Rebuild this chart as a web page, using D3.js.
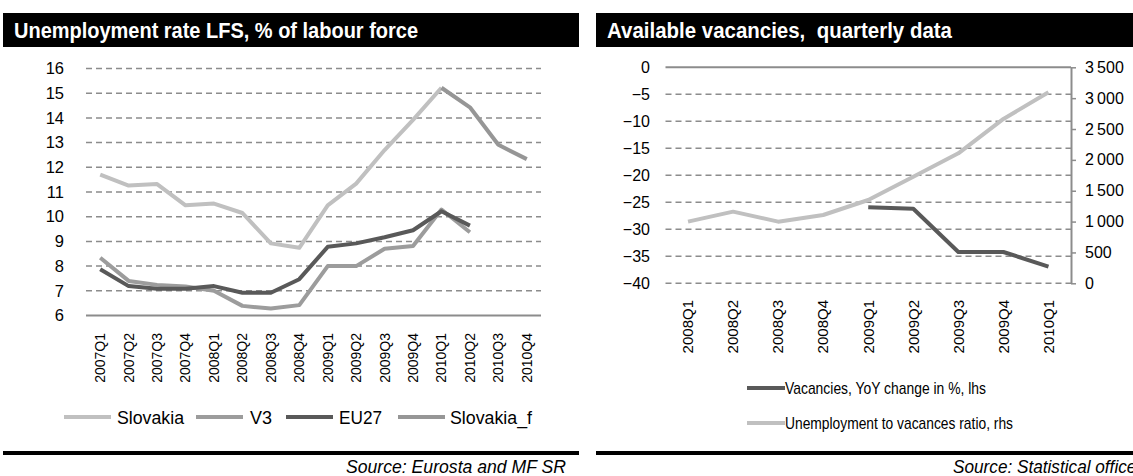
<!DOCTYPE html>
<html>
<head>
<meta charset="utf-8">
<script src="https://cdn.jsdelivr.net/npm/d3@7/dist/d3.min.js"></script>
<style>
body { margin: 0; background: #fff; }
svg { display: block; font-family: "Liberation Sans", Arial, sans-serif; }
</style>
</head>
<body>
<svg id="chart" width="1133" height="476"></svg>
<script>
// left panel: unemployment rate LFS
var quarters = ["2007Q1","2007Q2","2007Q3","2007Q4","2008Q1","2008Q2","2008Q3","2008Q4",
                "2009Q1","2009Q2","2009Q3","2009Q4","2010Q1","2010Q2","2010Q3","2010Q4"];
var slovakia  = [11.7, 11.26, 11.32, 10.46, 10.53, 10.15, 8.92, 8.74, 10.46, 11.34, 12.7, 13.92, 15.22, null, null, null];
var v3        = [8.34, 7.4, 7.24, 7.17, 7.0, 6.39, 6.28, 6.42, 8.0, 8.0, 8.7, 8.81, 10.29, 9.37, null, null];
var eu27      = [7.87, 7.19, 7.08, 7.08, 7.19, 6.92, 6.92, 7.47, 8.78, 8.92, 9.17, 9.45, 10.22, 9.64, null, null];
var slovakiaF = [null, null, null, null, null, null, null, null, null, null, null, null, 15.22, 14.43, 12.91, 12.33];
var unempTicks = [6, 7, 8, 9, 10, 11, 12, 13, 14, 15, 16];

// right panel: available vacancies
var vacQuarters = ["2008Q1","2008Q2","2008Q3","2008Q4","2009Q1","2009Q2","2009Q3","2009Q4","2010Q1"];
var vacancies = [null, null, null, null, -25.9, -26.2, -34.2, -34.2, -36.9];
var ratio     = [999, 1161, 999, 1107, 1350, 1728, 2106, 2663, 3095];
var lhsTicks = [0, -5, -10, -15, -20, -25, -30, -35, -40];
var rhsTicks = [0, 500, 1000, 1500, 2000, 2500, 3000, 3500];

var light = "#c0c0c0", mid = "#9c9c9c", dark = "#595959", grid = "#8c8c8c";
var narrow = '"Liberation Sans Narrow","Arial Narrow","Liberation Sans",Arial,sans-serif';

var svg = d3.select("#chart");

// ---------- panel frames ----------
function frame(x0, x1, title, titleLen, source, srcX, srcAnchor, srcLen) {
  svg.append("rect").attr("x", x0).attr("y", 13).attr("width", x1 - x0).attr("height", 34).attr("fill", "#000");
  svg.append("text").attr("x", x0 + 11).attr("y", 38)
    .attr("fill", "#fff").style("font-family", narrow).style("font-weight", "bold").style("font-size", "22px")
    .style("white-space", "pre")
    .attr("textLength", titleLen).attr("lengthAdjust", "spacingAndGlyphs")
    .text(title);
  svg.append("rect").attr("x", x0).attr("y", 451).attr("width", x1 - x0).attr("height", 4).attr("fill", "#000");
  svg.append("text").attr("x", srcX).attr("y", 473).attr("text-anchor", srcAnchor)
    .style("font-family", narrow).style("font-style", "italic").style("font-size", "18px")
    .attr("textLength", srcLen).attr("lengthAdjust", "spacingAndGlyphs")
    .text(source);
}
frame(3, 579, "Unemployment rate LFS, % of labour force", 404, "Source: Eurosta and MF SR", 566, "end", 220);
frame(596, 1133, "Available vacancies,  quarterly data", 345, "Source: Statistical office SR", 953, "start", 212);

// ---------- left chart ----------
var x1 = d3.scaleBand().domain(quarters).range([86, 541]);
var y1 = d3.scaleLinear().domain([6, 16]).range([315.5, 68.5]);

var g1 = svg.append("g");
g1.selectAll(".grid1").data(unempTicks.filter(function(d) { return d > 6; })).enter()
  .append("line")
  .attr("x1", 86).attr("x2", 541)
  .attr("y1", function(d) { return y1(d); }).attr("y2", function(d) { return y1(d); })
  .attr("stroke", grid).attr("stroke-width", 1.5).attr("stroke-dasharray", "6 4");
g1.append("line").attr("x1", 86).attr("x2", 541).attr("y1", y1(6)).attr("y2", y1(6))
  .attr("stroke", grid).attr("stroke-width", 2);

g1.append("g").attr("transform", "translate(64,0)")
  .call(d3.axisLeft(y1).tickValues(unempTicks).tickSize(0).tickPadding(0))
  .call(function(a) { a.select(".domain").remove(); })
  .selectAll("text").style("font-size", "16.5px").attr("fill", "#000").style("font-family", "Liberation Sans, Arial");

g1.append("g").attr("transform", "translate(0,333)")
  .call(d3.axisBottom(x1).tickSize(0).tickPadding(0))
  .call(function(a) { a.select(".domain").remove(); })
  .selectAll("text")
  .attr("transform", "rotate(-90)")
  .attr("x", 0).attr("y", 0).attr("dy", "0.35em").attr("dx", 0)
  .style("text-anchor", "end")
  .style("font-size", "14px").attr("fill", "#000").style("font-family", "Liberation Sans, Arial");

var line1 = d3.line()
  .defined(function(d) { return d != null; })
  .x(function(d, i) { return x1(quarters[i]) + x1.bandwidth() / 2; })
  .y(function(d) { return y1(d); });

var leftSeries = [
  { name: "Slovakia", values: slovakia, color: light },
  { name: "V3", values: v3, color: mid },
  { name: "EU27", values: eu27, color: dark },
  { name: "Slovakia_f", values: slovakiaF, color: "#969696" }
];
leftSeries.forEach(function(s) {
  g1.append("path").datum(s.values).attr("d", line1)
    .attr("fill", "none").attr("stroke", s.color).attr("stroke-width", 4)
    .attr("stroke-linejoin", "round");
});

// legend left
var legPos = [
  { lx: 64, tx: 117, tl: 67 },
  { lx: 196, tx: 250, tl: 22 },
  { lx: 286, tx: 339, tl: 43 },
  { lx: 398, tx: 450, tl: 82 }
];
leftSeries.forEach(function(s, i) {
  var p = legPos[i];
  g1.append("line").attr("x1", p.lx).attr("x2", p.lx + 47).attr("y1", 417).attr("y2", 417)
    .attr("stroke", s.color).attr("stroke-width", 4);
  g1.append("text").attr("x", p.tx).attr("y", 423.5).style("font-size", "17.5px")
    .attr("textLength", p.tl).attr("lengthAdjust", "spacingAndGlyphs")
    .text(s.name);
});

// ---------- right chart ----------
var x2 = d3.scaleBand().domain(vacQuarters).range([665.5, 1071]);
var y2 = d3.scaleLinear().domain([-40, 0]).range([283.3, 67.3]);
var y2r = d3.scaleLinear().domain([0, 3500]).range([283.3, 67.3]);

var g2 = svg.append("g");
g2.selectAll(".grid2").data(lhsTicks.filter(function(d) { return d < 0; })).enter()
  .append("line")
  .attr("x1", 665.5).attr("x2", 1071)
  .attr("y1", function(d) { return y2(d); }).attr("y2", function(d) { return y2(d); })
  .attr("stroke", grid).attr("stroke-width", 1.5).attr("stroke-dasharray", "6 4");
g2.append("line").attr("x1", 665.5).attr("x2", 1071).attr("y1", y2(0)).attr("y2", y2(0))
  .attr("stroke", grid).attr("stroke-width", 2);

g2.append("g").attr("transform", "translate(650,0)")
  .call(d3.axisLeft(y2).tickValues(lhsTicks).tickSize(0).tickPadding(0))
  .call(function(a) { a.select(".domain").remove(); })
  .selectAll("text").style("font-size", "16px").attr("fill", "#000").style("font-family", "Liberation Sans, Arial");

var rAxis = g2.append("g").attr("transform", "translate(1071,0)")
  .call(d3.axisRight(y2r).tickValues(rhsTicks).tickSize(5).tickSizeOuter(0).tickPadding(9)
    .tickFormat(function(d) { return d3.format(",")(d).replace(",", "\u2009"); }));
rAxis.select(".domain").attr("stroke", grid).attr("stroke-width", 2);
rAxis.selectAll("line").attr("stroke", grid).attr("stroke-width", 1.5);
rAxis.selectAll("text").style("font-size", "16px").attr("fill", "#000").style("font-family", "Liberation Sans, Arial");

g2.append("g").attr("transform", "translate(0,300)")
  .call(d3.axisBottom(x2).tickSize(0).tickPadding(0))
  .call(function(a) { a.select(".domain").remove(); })
  .selectAll("text")
  .attr("transform", "rotate(-90)")
  .attr("x", 0).attr("y", 0).attr("dy", "0.35em")
  .style("text-anchor", "end")
  .style("font-size", "15px").attr("fill", "#000").style("font-family", "Liberation Sans, Arial");

var xc2 = function(i) { return x2(vacQuarters[i]) + x2.bandwidth() / 2; };
g2.append("path").datum(ratio)
  .attr("d", d3.line().x(function(d, i) { return xc2(i); }).y(function(d) { return y2r(d); }))
  .attr("fill", "none").attr("stroke", light).attr("stroke-width", 4).attr("stroke-linejoin", "round");
g2.append("path").datum(vacancies)
  .attr("d", d3.line().defined(function(d) { return d != null; })
    .x(function(d, i) { return xc2(i); }).y(function(d) { return y2(d); }))
  .attr("fill", "none").attr("stroke", dark).attr("stroke-width", 4).attr("stroke-linejoin", "round");

// legend right
var rightLegend = [
  { name: "Vacancies, YoY change in %, lhs", color: dark, y: 388, tl: 201 },
  { name: "Unemployment to vacances ratio, rhs", color: light, y: 423, tl: 228 }
];
rightLegend.forEach(function(s) {
  g2.append("line").attr("x1", 747).attr("x2", 785).attr("y1", s.y).attr("y2", s.y)
    .attr("stroke", s.color).attr("stroke-width", 4);
  g2.append("text").attr("x", 785).attr("y", s.y + 6).style("font-family", narrow).style("font-size", "17px")
    .attr("textLength", s.tl).attr("lengthAdjust", "spacingAndGlyphs")
    .text(s.name);
});
</script>
</body>
</html>
